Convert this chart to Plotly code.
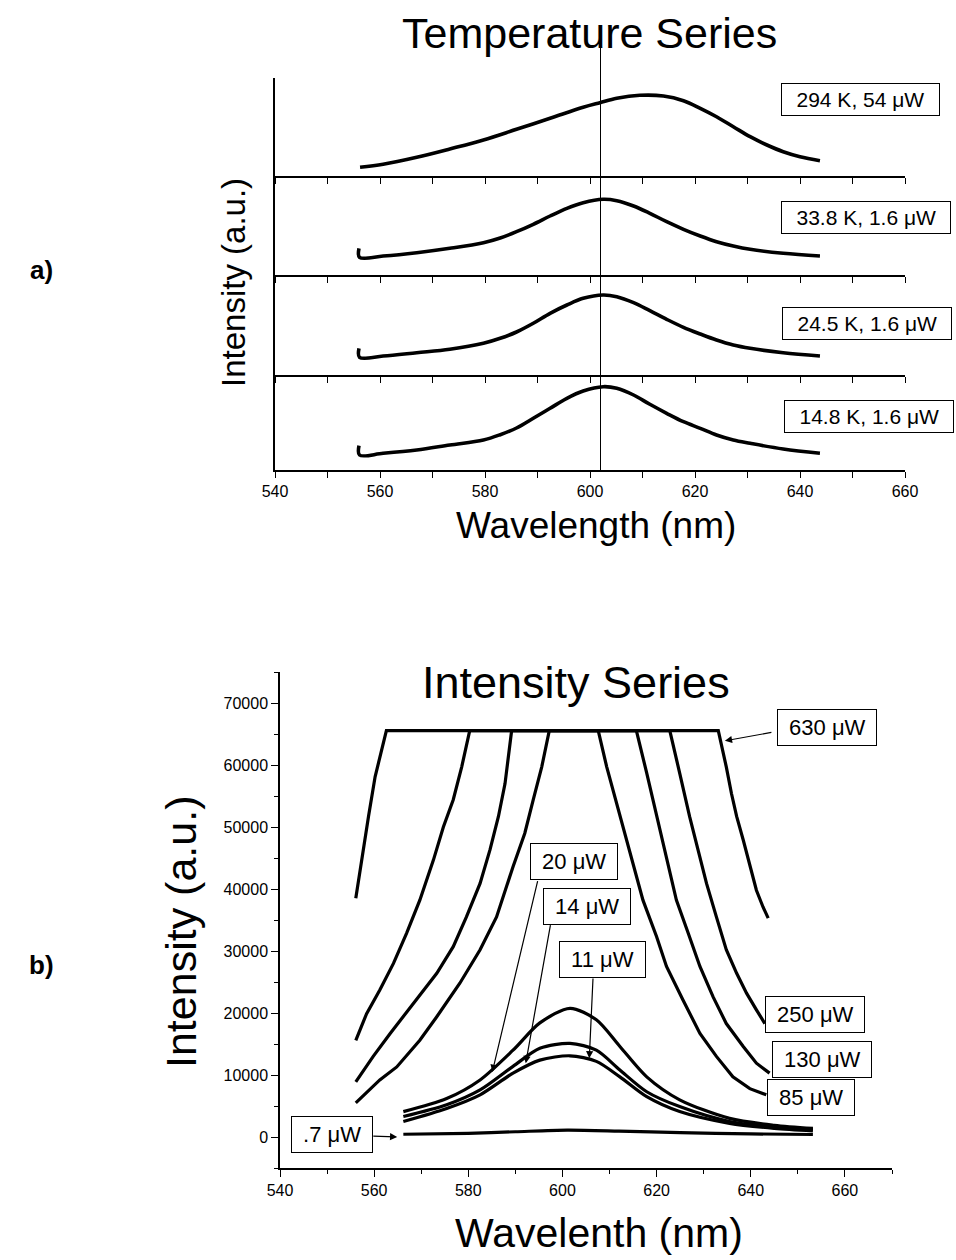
import plotly.graph_objects as go

FONT = "Liberation Sans, Arial, sans-serif"
W, H = 956, 1260

# ---------------- Panel a data (Temperature Series) ----------------
a_labels = ["294 K, 54 μW", "33.8 K, 1.6 μW", "24.5 K, 1.6 μW", "14.8 K, 1.6 μW"]

a1_x = [556.2, 560.6, 567.0, 573.3, 579.7, 586.0, 592.4, 598.7, 601.9, 605.1, 609.5, 614.0,
        617.8, 621.0, 624.1, 627.3, 630.5, 633.7, 636.8, 640.0, 643.8]
a1_y = [8.7, 11.7, 18.7, 27.0, 36.0, 46.7, 57.7, 68.7, 73.3, 77.7, 80.7, 80.0,
        75.3, 67.7, 59.3, 49.3, 39.3, 31.0, 24.3, 19.3, 15.3]

a_x = [556.0, 556.1, 560.6, 567.0, 573.3, 579.7, 582.9, 586.0, 589.2, 592.4, 595.6, 598.7,
       602.5, 605.1, 608.3, 611.4, 614.6, 617.8, 621.0, 624.1, 627.3, 630.5, 636.8, 643.8]
a2_y = [26.7, 17.7, 19.0, 22.3, 26.7, 32.3, 37.0, 43.3, 50.7, 59.0, 66.7, 72.3,
        75.7, 74.3, 69.0, 61.7, 53.3, 45.7, 39.0, 33.3, 29.0, 25.7, 21.7, 19.0]
a3_y = [26.7, 17.7, 19.0, 22.3, 25.7, 31.7, 36.7, 43.0, 51.7, 61.7, 70.0, 76.7,
        80.0, 78.3, 72.3, 64.3, 55.7, 47.7, 41.0, 35.0, 30.0, 26.7, 22.3, 19.0]
a4_y = [24.3, 15.0, 16.7, 20.0, 25.0, 30.0, 35.3, 42.0, 51.7, 61.7, 71.7, 79.0,
        83.3, 81.7, 75.0, 65.7, 56.7, 48.3, 41.7, 35.0, 30.0, 26.7, 21.0, 16.7]

ref_wavelength = 602.0

# ---------------- Panel b data (Intensity Series) ----------------
b630_x = [556.1, 557.3, 558.8, 560.2, 562.6, 633.1, 634.1, 634.8, 635.9, 637.0, 638.4,
          639.8, 641.2, 642.6, 643.7]
b630_y = [38500, 44700, 51700, 58100, 65535, 65535, 62400, 59700, 55400, 51700, 47900,
          43600, 39800, 37100, 35300]

b250_x = [556.1, 558.4, 561.2, 564.1, 566.9, 569.7, 572.6, 574.7, 576.8, 578.6, 580.3,
          622.8, 624.9, 627.0, 628.8, 630.6, 632.7, 634.8, 637.0, 639.1, 641.2, 643.0]
b250_y = [15600, 19900, 23700, 28000, 32900, 38200, 44700, 50000, 54400, 59700, 65535,
          65535, 58700, 51700, 46300, 40900, 35500, 30200, 26400, 23200, 20500, 18300]

b130_x = [556.1, 559.8, 563.4, 568.3, 573.3, 576.8, 579.6, 582.5, 584.6, 586.4, 587.8, 589.2,
          615.7, 617.9, 620.0, 622.1, 624.2, 626.7, 629.2, 632.0, 634.8, 638.4, 641.2, 644.0]
b130_y = [8900, 13000, 16700, 21600, 26400, 30700, 35500, 40900, 46300, 51700, 57000, 65535,
          65535, 58700, 51700, 44700, 38200, 32900, 27500, 22600, 18300, 14600, 11900, 10300]

b85_x = [556.1, 561.2, 564.8, 569.7, 573.3, 578.2, 582.5, 586.0, 589.5, 592.0, 593.8, 595.6, 597.2,
         607.6, 609.4, 612.2, 614.7, 617.1, 620.0, 622.1, 625.6, 629.2, 632.7, 636.2, 639.8, 643.3]
b85_y = [5500, 9200, 11300, 15600, 19400, 24800, 30200, 35500, 43600, 49000, 54400, 59700, 65535,
         65535, 59700, 51700, 44700, 38200, 32300, 27500, 22100, 16700, 13000, 9700, 7800, 6800]

b_small_x = [566.2, 575.4, 582.5, 589.5, 595.2, 601.6, 607.2, 612.2, 617.9, 624.9, 635.5, 645.0, 653.2]
b20_y = [4100, 6200, 9200, 14000, 18400, 20750, 18900, 14600, 9700, 6000, 3000, 1900, 1400]
b14_y = [3300, 5200, 7600, 11400, 14300, 15100, 14000, 10800, 7300, 4900, 2500, 1600, 1200]
b11_y = [2500, 4600, 6800, 10300, 12400, 13100, 12200, 9700, 6500, 4100, 2200, 1400, 1000]

b07_x = [566.2, 580.0, 590.0, 601.0, 612.0, 625.0, 640.0, 653.2]
b07_y = [440, 600, 850, 1100, 950, 700, 500, 400]

b_labels = ["630 μW", "20 μW", "14 μW", "11 μW", "250 μW", "130 μW", "85 μW", ".7 μW"]


# ---------------- helpers ----------------
def pxx(x):
    return x / W


def pyy(y):
    return 1 - y / H


fig = go.Figure()

# panel a: 4 stacked subplots (top -> bottom)
a_series = [(a1_x, a1_y), (a_x, a2_y), (a_x, a3_y), (a_x, a4_y)]
a_axes = ["4", "3", "2", ""]
a_tops = [78, 176, 275, 375]
a_bots = [176, 275, 375, 470]
a_dom_x = [pxx(275), pxx(905)]

for i, ((xs, ys), ax) in enumerate(zip(a_series, a_axes)):
    fig.add_trace(go.Scatter(
        x=xs, y=ys, mode="lines",
        line=dict(color="black", width=3.6, shape="spline", smoothing=1.0),
        xaxis="x" + ax, yaxis="y" + ax, showlegend=False, hoverinfo="skip"))
    hgt = a_bots[i] - a_tops[i]
    xa = dict(domain=a_dom_x, range=[540, 660], anchor="y" + ax, automargin=False,
              showline=True, linecolor="black", linewidth=1.5,
              ticks="outside", tickcolor="black", ticklen=6, tickwidth=1.2,
              tick0=540, dtick=20,
              minor=dict(ticks="outside", dtick=10, ticklen=6, tickcolor="black", tickwidth=1.2),
              showgrid=False, zeroline=False,
              showticklabels=(ax == ""),
              tickfont=dict(family=FONT, size=16, color="black"))
    if ax != "":
        xa["matches"] = "x"
    ya = dict(domain=[pyy(a_bots[i]), pyy(a_tops[i])], range=[0, hgt], automargin=False,
              anchor="x" + ax, showline=True, linecolor="black", linewidth=1.5,
              ticks="", showticklabels=False, showgrid=False, zeroline=False)
    fig.update_layout(**{"xaxis" + ax: xa, "yaxis" + ax: ya})

NB = "\u00a0"
EN = "\u2002"

# label boxes panel a
a_box_centers = [(860, 100), (866, 217), (867, 324), (869, 417)]
for lab, (cx, cy) in zip(a_labels, a_box_centers):
    fig.add_annotation(x=pxx(cx), y=pyy(cy), xref="paper", yref="paper",
                       text=EN + lab + EN, showarrow=False,
                       font=dict(family=FONT, size=21, color="black"),
                       bordercolor="black", borderwidth=1, borderpad=4,
                       bgcolor="white", xanchor="center", yanchor="middle")

# reference vertical line
fig.add_shape(type="line", x0=ref_wavelength, x1=ref_wavelength, xref="x",
              y0=pyy(470), y1=pyy(38), yref="paper",
              line=dict(color="black", width=1))

# panel b
b_series = [(b630_x, b630_y), (b_small_x, b20_y), (b_small_x, b14_y), (b_small_x, b11_y),
            (b250_x, b250_y), (b130_x, b130_y), (b85_x, b85_y), (b07_x, b07_y)]
b_smooth = [False, True, True, True, False, False, False, True]
for (xs, ys), sm in zip(b_series, b_smooth):
    fig.add_trace(go.Scatter(
        x=xs, y=ys, mode="lines",
        line=dict(color="black", width=3.2,
                  shape=("spline" if sm else "linear"), smoothing=0.8),
        xaxis="x5", yaxis="y5", showlegend=False, hoverinfo="skip"))

fig.update_layout(
    xaxis5=dict(domain=[pxx(280), pxx(892)], range=[540, 670], anchor="y5", automargin=False,
                showline=True, linecolor="black", linewidth=1.5,
                ticks="outside", ticklen=7, tickwidth=1.2, tickcolor="black",
                tick0=540, dtick=20,
                minor=dict(ticks="outside", dtick=10, ticklen=4, tickcolor="black", tickwidth=1.2),
                showgrid=False, zeroline=False,
                tickfont=dict(family=FONT, size=16, color="black")),
    yaxis5=dict(domain=[pyy(1168), pyy(672)], range=[-5000, 75000], anchor="x5", automargin=False,
                showline=True, linecolor="black", linewidth=1.5,
                ticks="outside", ticklen=7, tickwidth=1.2, tickcolor="black",
                tick0=0, dtick=10000, tickformat="d",
                minor=dict(ticks="outside", dtick=5000, ticklen=4, tickcolor="black", tickwidth=1.2),
                showgrid=False, zeroline=False,
                tickfont=dict(family=FONT, size=16, color="black")),
)

# panel b boxes (center px)
b_box_centers = [(826.5, 727.5), (574, 861), (587, 906), (602.5, 959),
                 (815, 1014), (822, 1059), (810.5, 1097), (331.5, 1134)]
for lab, (cx, cy) in zip(b_labels, b_box_centers):
    fig.add_annotation(x=pxx(cx), y=pyy(cy), xref="paper", yref="paper",
                       text=NB + lab + NB, showarrow=False,
                       font=dict(family=FONT, size=22, color="black"),
                       bordercolor="black", borderwidth=1, borderpad=5,
                       bgcolor="white", xanchor="center", yanchor="middle")

# arrows (tail -> tip) in data coordinates of panel b
b_arrows = [((644.7, 65300), (634.5, 63900)),
            ((594.8, 41500), (585.1, 10500)),
            ((597.5, 34400), (592.2, 11900)),
            ((606.5, 25800), (605.7, 12700)),
            ((559.5, 160), (564.9, 0))]
for (tx, ty), (hx, hy) in b_arrows:
    fig.add_annotation(x=hx, y=hy, xref="x5", yref="y5",
                       ax=tx, ay=ty, axref="x5", ayref="y5",
                       text="", showarrow=True, arrowhead=2, arrowsize=1.2,
                       arrowwidth=1.2, arrowcolor="black")

# titles & axis titles
texts = [
    ("Temperature Series", 589, 33, 43, 0),
    ("Wavelength (nm)", 596, 525, 37, 0),
    ("Intensity (a.u.)", 233, 283, 33, -90),
    ("Intensity Series", 576, 682, 45, 0),
    ("Wavelenth (nm)", 599, 1233, 41, 0),
    ("Intensity (a.u.)", 181, 932, 43, -90),
    ("<b>a)</b>", 41, 270, 26, 0),
    ("<b>b)</b>", 41, 965, 26, 0),
]
for t, cx, cy, sz, ang in texts:
    fig.add_annotation(x=pxx(cx), y=pyy(cy), xref="paper", yref="paper",
                       text=t, showarrow=False, textangle=ang,
                       font=dict(family=FONT, size=sz, color="black"),
                       xanchor="center", yanchor="middle")

fig.update_layout(width=W, height=H, margin=dict(l=0, r=0, t=0, b=0, autoexpand=False),
                  paper_bgcolor="white", plot_bgcolor="white", showlegend=False)

fig.write_html("out.html")
